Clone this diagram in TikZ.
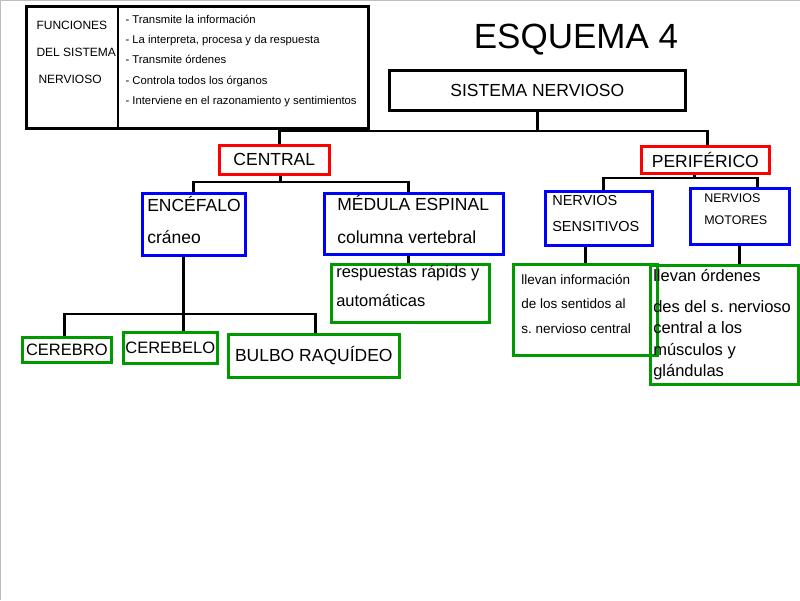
\documentclass[tikz,border=0pt]{standalone}
\usepackage{fontspec}
\setmainfont{Liberation Sans}
\usetikzlibrary{positioning,calc}
\definecolor{edgegray}{HTML}{BDBDBD}
\definecolor{boxred}{HTML}{FF0000}
\definecolor{boxblue}{HTML}{0000FF}
\definecolor{boxgreen}{HTML}{009900}
\newcommand{\fs}[2]{\fontsize{#1}{#2}\selectfont}
% lines of a box (width #2), lifted by #1
\newcommand{\boxlines}[3]{\raisebox{#1}[\height][\depth]{\parbox{#2}{\raggedright #3}}}
\frenchspacing

\begin{document}
\begin{tikzpicture}[
  x=1pt, y=-1pt,
  font=\fs{17.5}{21},
  box/.style={draw, line width=2.6pt, inner sep=0pt, anchor=north west},
  bbox/.style={box, draw=black},
  rbox/.style={box, draw=boxred},
  ublox/.style={box, draw=boxblue},
  gbox/.style={box, draw=boxgreen},
  link/.style={line width=2.6pt},
]
\useasboundingbox (0,0) rectangle (800,600);
\draw[edgegray, line width=1.2pt] (0.6,600) -- (0.6,0.6) -- (800,0.6);

% ============ functions of the nervous system ============
\node[bbox, minimum width=342, minimum height=122] (funbox) at (25,5) {};
\draw[link] (funbox.north west) ++(93,0) coordinate (dv) -- (dv |- funbox.south);
\node[anchor=west, align=left, font=\fs{12}{27}] (funlbl) at (33,52)
  {FUNCIONES\\DEL SISTEMA\\\hspace*{2pt}NERVIOSO};
\node[anchor=west, align=left, font=\fs{11.3}{20.3}] (funlist) at (122,61)
  {- Transmite la información\\- La interpreta, procesa y da respuesta\\- Transmite órdenes\\- Controla todos los órganos\\- Interviene en el razonamiento y sentimientos};

\node[font=\fs{35}{40}] (title) at (576,40) {ESQUEMA 4};

% ============ main tree ============
\node[bbox, minimum width=296, minimum height=40] (sn) at (388,69) {SISTEMA NERVIOSO};
\node[rbox, minimum width=110, minimum height=29] (central) at (218,144) {CENTRAL};
\node[rbox, minimum width=128, minimum height=27] (perif) at (640,145) {PERIFÉRICO};
\coordinate (t0) at (sn.south |- 0,131);
\draw[link] (sn.south) -- (t0);
\draw[link] ([xshift=5pt]central.north) |- (t0) -| ([xshift=2pt]perif.north);

% ============ central ============
\node[ublox, minimum width=103, minimum height=62, font=\fs{17.5}{32}] (encef) at (141,192)
  {\boxlines{4pt}{93pt}{ENCÉFALO\\cráneo}};
\node[ublox, minimum width=179, minimum height=61, font=\fs{17.5}{33}] (medula) at (323,192)
  {\boxlines{4pt}{153pt}{MÉDULA ESPINAL\\columna vertebral}};
\coordinate (c0) at ([xshift=6pt]central.south |- 0,182);
\draw[link] ([xshift=6pt]central.south) -- (c0);
\draw[link] ([xshift=-0.5pt]encef.north) |- (c0) -| ([xshift=-5.5pt]medula.north);

\node[gbox, minimum width=158, minimum height=58, font=\fs{16.5}{29}] (resp) at (330,263)
  {\boxlines{7pt}{148pt}{respuestas rápids y\\automáticas}};
\draw[link] ([xshift=-2pt]resp.north) -- ([xshift=-2pt]resp.north |- medula.south);

\node[gbox, minimum width=89, minimum height=25, font=\fs{16.5}{20}] (cerebro) at (21,336) {CEREBRO};
\node[gbox, minimum width=94, minimum height=31, font=\fs{16.5}{20}] (cerebelo) at (122,331) {CEREBELO};
\node[gbox, minimum width=171, minimum height=43] (bulbo) at (227,333) {BULBO RAQUÍDEO};
\coordinate (e0) at ([xshift=-10.5pt]encef.south |- 0,314);
\draw[link] ([xshift=-10.5pt]encef.south) -- (e0);
\draw[link] ([xshift=-2.5pt]cerebro.north) |- (e0) -| ([xshift=1.5pt]bulbo.north);
\draw[link] (e0) -- (e0 |- cerebelo.north);

% ============ periferico ============
\node[ublox, minimum width=107, minimum height=54, font=\fs{14.5}{26}] (nsens) at (544,190)
  {\boxlines{5pt}{93pt}{NERVIOS\\SENSITIVOS}};
\node[ublox, minimum width=99, minimum height=56, font=\fs{12.5}{22}] (nmot) at (689,187)
  {\boxlines{7pt}{71pt}{NERVIOS\\MOTORES}};
\coordinate (p0) at ([xshift=-11pt]perif.south |- 0,178);
\draw[link] ([xshift=-11pt]perif.south) -- (p0);
\draw[link] ([xshift=4.5pt]nsens.north) |- (p0) -| ([xshift=17.5pt]nmot.north);

\node[gbox, minimum width=144, minimum height=91, font=\fs{13.5}{24.5}] (llinfo) at (512,263)
  {\boxlines{6pt}{128pt}{llevan información\\de los sentidos al\\s. nervioso central}};
\draw[link] (llinfo.north) -- (llinfo.north |- nsens.south);

\node[gbox, minimum width=148, minimum height=119, font=\fs{16.5}{21.5}] (llord) at (649,264)
  {\boxlines{0pt}{142pt}{llevan órdenes\\[9pt]des del s. nervioso\\central a los\\músculos y\\glándulas}};
\draw[link] ([xshift=-0.5pt]nmot.south) -- ([xshift=-0.5pt]nmot.south |- llord.north);

\end{tikzpicture}
\end{document}
